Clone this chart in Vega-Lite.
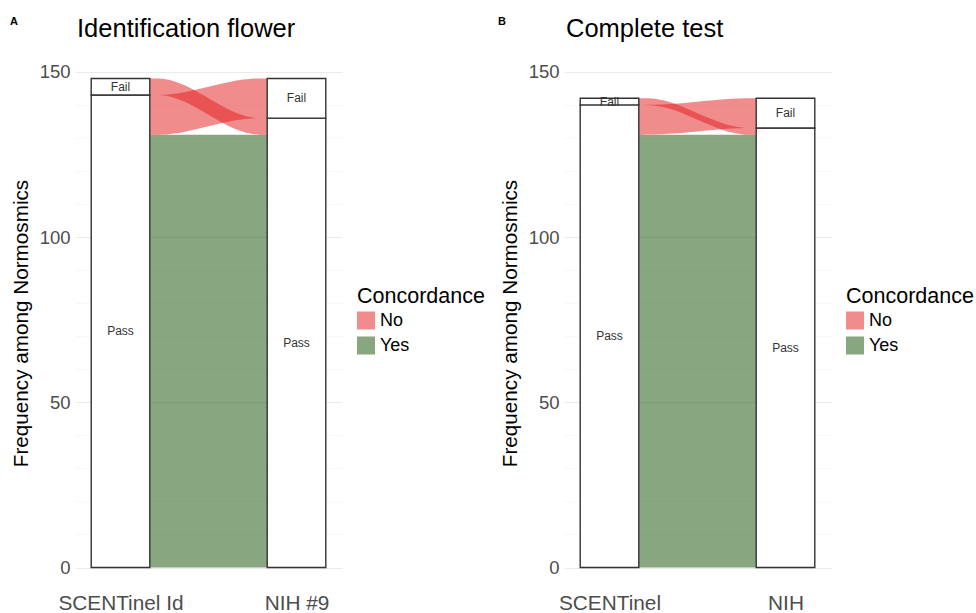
{
  "$schema": "https://vega.github.io/schema/vega-lite/v6.json",
  "padding": {"left": 10, "top": 15, "right": 0, "bottom": 0},
  "config": {
    "font": "Liberation Sans",
    "view": {"stroke": null},
    "concat": {"spacing": 13},
    "axisY": {
      "values": [0, 25, 50, 75, 100, 125, 150],
      "labelExpr": "datum.value % 50 == 0 ? datum.label : ''",
      "gridColor": {"condition": {"test": "datum.value % 50 != 0", "value": "#f3f3f3"}, "value": "#ebebeb"},
      "gridWidth": {"condition": {"test": "datum.value % 50 != 0", "value": 0.6}, "value": 1.1},
      "ticks": false,
      "domain": false,
      "labelFontSize": 18.5,
      "labelColor": "#4d4d4d",
      "labelPadding": 5,
      "titleFontSize": 20.7,
      "titleFontWeight": "normal",
      "titleColor": "#000000",
      "titlePadding": 8
    },
    "axisX": {
      "ticks": false,
      "domain": false,
      "grid": true,
      "gridColor": "#ebebeb",
      "gridWidth": 1.1,
      "labelFontSize": 20.8,
      "labelColor": "#4d4d4d",
      "labelPadding": 1,
      "labelAngle": 0,
      "title": null
    },
    "legend": {
      "orient": "none",
      "legendX": 282,
      "legendY": 232,
      "titleFontSize": 21.5,
      "titleFontWeight": "normal",
      "titleColor": "#000000",
      "titlePadding": 4,
      "labelFontSize": 18,
      "labelColor": "#000000",
      "labelOffset": 5,
      "symbolType": "square",
      "symbolSize": 324,
      "symbolOpacity": 0.5,
      "symbolStrokeWidth": 0,
      "rowPadding": 7
    }
  },
  "datasets": {
    "strata": [
      {"panel": "A", "stage": "SCENTinel Id", "stratum": "Pass", "lo": 0, "hi": 143},
      {"panel": "A", "stage": "SCENTinel Id", "stratum": "Fail", "lo": 143, "hi": 148},
      {"panel": "A", "stage": "NIH #9", "stratum": "Pass", "lo": 0, "hi": 136},
      {"panel": "A", "stage": "NIH #9", "stratum": "Fail", "lo": 136, "hi": 148},
      {"panel": "B", "stage": "SCENTinel", "stratum": "Pass", "lo": 0, "hi": 140},
      {"panel": "B", "stage": "SCENTinel", "stratum": "Fail", "lo": 140, "hi": 142},
      {"panel": "B", "stage": "NIH", "stratum": "Pass", "lo": 0, "hi": 133},
      {"panel": "B", "stage": "NIH", "stratum": "Fail", "lo": 133, "hi": 142}
    ],
    "flows": [
      {"panel": "A", "flow": "Pass-Pass", "concordance": "Yes", "t": 0, "lo": 0, "hi": 131},
      {"panel": "A", "flow": "Pass-Pass", "concordance": "Yes", "t": 0.25, "lo": 0, "hi": 131},
      {"panel": "A", "flow": "Pass-Pass", "concordance": "Yes", "t": 0.75, "lo": 0, "hi": 131},
      {"panel": "A", "flow": "Pass-Pass", "concordance": "Yes", "t": 1, "lo": 0, "hi": 131},
      {"panel": "A", "flow": "Pass-Fail", "concordance": "No", "t": 0, "lo": 131, "hi": 143},
      {"panel": "A", "flow": "Pass-Fail", "concordance": "No", "t": 0.25, "lo": 131, "hi": 143},
      {"panel": "A", "flow": "Pass-Fail", "concordance": "No", "t": 0.75, "lo": 136, "hi": 148},
      {"panel": "A", "flow": "Pass-Fail", "concordance": "No", "t": 1, "lo": 136, "hi": 148},
      {"panel": "A", "flow": "Fail-Pass", "concordance": "No", "t": 0, "lo": 143, "hi": 148},
      {"panel": "A", "flow": "Fail-Pass", "concordance": "No", "t": 0.25, "lo": 143, "hi": 148},
      {"panel": "A", "flow": "Fail-Pass", "concordance": "No", "t": 0.75, "lo": 131, "hi": 136},
      {"panel": "A", "flow": "Fail-Pass", "concordance": "No", "t": 1, "lo": 131, "hi": 136},
      {"panel": "B", "flow": "Pass-Pass", "concordance": "Yes", "t": 0, "lo": 0, "hi": 131},
      {"panel": "B", "flow": "Pass-Pass", "concordance": "Yes", "t": 0.25, "lo": 0, "hi": 131},
      {"panel": "B", "flow": "Pass-Pass", "concordance": "Yes", "t": 0.75, "lo": 0, "hi": 131},
      {"panel": "B", "flow": "Pass-Pass", "concordance": "Yes", "t": 1, "lo": 0, "hi": 131},
      {"panel": "B", "flow": "Pass-Fail", "concordance": "No", "t": 0, "lo": 131, "hi": 140},
      {"panel": "B", "flow": "Pass-Fail", "concordance": "No", "t": 0.25, "lo": 131, "hi": 140},
      {"panel": "B", "flow": "Pass-Fail", "concordance": "No", "t": 0.75, "lo": 133, "hi": 142},
      {"panel": "B", "flow": "Pass-Fail", "concordance": "No", "t": 1, "lo": 133, "hi": 142},
      {"panel": "B", "flow": "Fail-Pass", "concordance": "No", "t": 0, "lo": 140, "hi": 142},
      {"panel": "B", "flow": "Fail-Pass", "concordance": "No", "t": 0.25, "lo": 140, "hi": 142},
      {"panel": "B", "flow": "Fail-Pass", "concordance": "No", "t": 0.75, "lo": 131, "hi": 133},
      {"panel": "B", "flow": "Fail-Pass", "concordance": "No", "t": 1, "lo": 131, "hi": 133}
    ]
  },
  "hconcat": [
    {
      "title": {"text": "A", "anchor": "start", "frame": "group", "fontSize": 11, "fontWeight": "bold", "dx": -65, "offset": -10},
      "hconcat": [
        {
          "width": 267,
          "height": 538,
          "title": {"text": "Identification flower", "anchor": "start", "frame": "group", "fontSize": 25.5, "fontWeight": "normal", "dx": 2, "offset": 12},
          "layer": [
            {
              "data": {"name": "flows"},
              "transform": [{"filter": "datum.panel == 'A'"}],
              "mark": {"type": "area", "interpolate": "basis", "opacity": 0.5},
              "encoding": {
                "x": {"field": "t", "type": "quantitative", "scale": {"domain": [-0.6405, 1.6396], "nice": false, "zero": false}, "axis": null},
                "y": {"field": "lo", "type": "quantitative", "scale": {"domain": [-7.4, 155.4], "nice": false, "zero": false}, "title": "Frequency among Normosmics"},
                "y2": {"field": "hi"},
                "color": {"field": "concordance", "type": "nominal", "scale": {"domain": ["No", "Yes"], "range": ["#e41a1c", "#114e01"]}, "title": "Concordance"},
                "detail": {"field": "flow"}
              }
            },
            {
              "data": {"name": "strata"},
              "transform": [{"filter": "datum.panel == 'A'"}],
              "mark": {"type": "bar", "width": 58.6, "fill": "#ffffff", "stroke": "#333333", "strokeWidth": 1.4},
              "encoding": {
                "x": {"field": "stage", "type": "nominal", "sort": ["SCENTinel Id", "NIH #9"], "scale": {"type": "point", "padding": 0.2585}},
                "y": {"field": "lo", "type": "quantitative", "scale": {"domain": [-7.4, 155.4], "nice": false, "zero": false}, "title": "Frequency among Normosmics"},
                "y2": {"field": "hi"}
              }
            },
            {
              "data": {"name": "strata"},
              "transform": [
                {"filter": "datum.panel == 'A'"},
                {"fold": ["lo", "hi"], "as": ["bound", "value"]},
                {"aggregate": [{"op": "mean", "field": "value", "as": "mid"}], "groupby": ["stage", "stratum"]}
              ],
              "mark": {"type": "text", "fontSize": 12, "color": "#333333"},
              "encoding": {
                "x": {"field": "stage", "type": "nominal", "sort": ["SCENTinel Id", "NIH #9"], "scale": {"type": "point", "padding": 0.2585}, "axis": null},
                "y": {"field": "mid", "type": "quantitative", "scale": {"domain": [-7.4, 155.4], "nice": false, "zero": false}, "title": "Frequency among Normosmics"},
                "text": {"field": "stratum"}
              }
            }
          ],
          "resolve": {"scale": {"x": "independent"}}
        }
      ]
    },
    {
      "title": {"text": "B", "anchor": "start", "frame": "group", "fontSize": 11, "fontWeight": "bold", "dx": -66, "offset": -10},
      "hconcat": [
        {
          "width": 267,
          "height": 538,
          "title": {"text": "Complete test", "anchor": "start", "frame": "group", "fontSize": 25.5, "fontWeight": "normal", "dx": 2, "offset": 12},
          "layer": [
            {
              "data": {"name": "flows"},
              "transform": [{"filter": "datum.panel == 'B'"}],
              "mark": {"type": "area", "interpolate": "basis", "opacity": 0.5},
              "encoding": {
                "x": {"field": "t", "type": "quantitative", "scale": {"domain": [-0.6405, 1.6396], "nice": false, "zero": false}, "axis": null},
                "y": {"field": "lo", "type": "quantitative", "scale": {"domain": [-7.4, 155.4], "nice": false, "zero": false}, "title": "Frequency among Normosmics"},
                "y2": {"field": "hi"},
                "color": {"field": "concordance", "type": "nominal", "scale": {"domain": ["No", "Yes"], "range": ["#e41a1c", "#114e01"]}, "title": "Concordance"},
                "detail": {"field": "flow"}
              }
            },
            {
              "data": {"name": "strata"},
              "transform": [{"filter": "datum.panel == 'B'"}],
              "mark": {"type": "bar", "width": 58.6, "fill": "#ffffff", "stroke": "#333333", "strokeWidth": 1.4},
              "encoding": {
                "x": {"field": "stage", "type": "nominal", "sort": ["SCENTinel", "NIH"], "scale": {"type": "point", "padding": 0.2585}},
                "y": {"field": "lo", "type": "quantitative", "scale": {"domain": [-7.4, 155.4], "nice": false, "zero": false}, "title": "Frequency among Normosmics"},
                "y2": {"field": "hi"}
              }
            },
            {
              "data": {"name": "strata"},
              "transform": [
                {"filter": "datum.panel == 'B'"},
                {"fold": ["lo", "hi"], "as": ["bound", "value"]},
                {"aggregate": [{"op": "mean", "field": "value", "as": "mid"}], "groupby": ["stage", "stratum"]}
              ],
              "mark": {"type": "text", "fontSize": 12, "color": "#333333"},
              "encoding": {
                "x": {"field": "stage", "type": "nominal", "sort": ["SCENTinel", "NIH"], "scale": {"type": "point", "padding": 0.2585}, "axis": null},
                "y": {"field": "mid", "type": "quantitative", "scale": {"domain": [-7.4, 155.4], "nice": false, "zero": false}, "title": "Frequency among Normosmics"},
                "text": {"field": "stratum"}
              }
            }
          ],
          "resolve": {"scale": {"x": "independent"}}
        }
      ]
    }
  ],
  "resolve": {"scale": {"color": "independent", "x": "independent", "y": "independent"}}
}
